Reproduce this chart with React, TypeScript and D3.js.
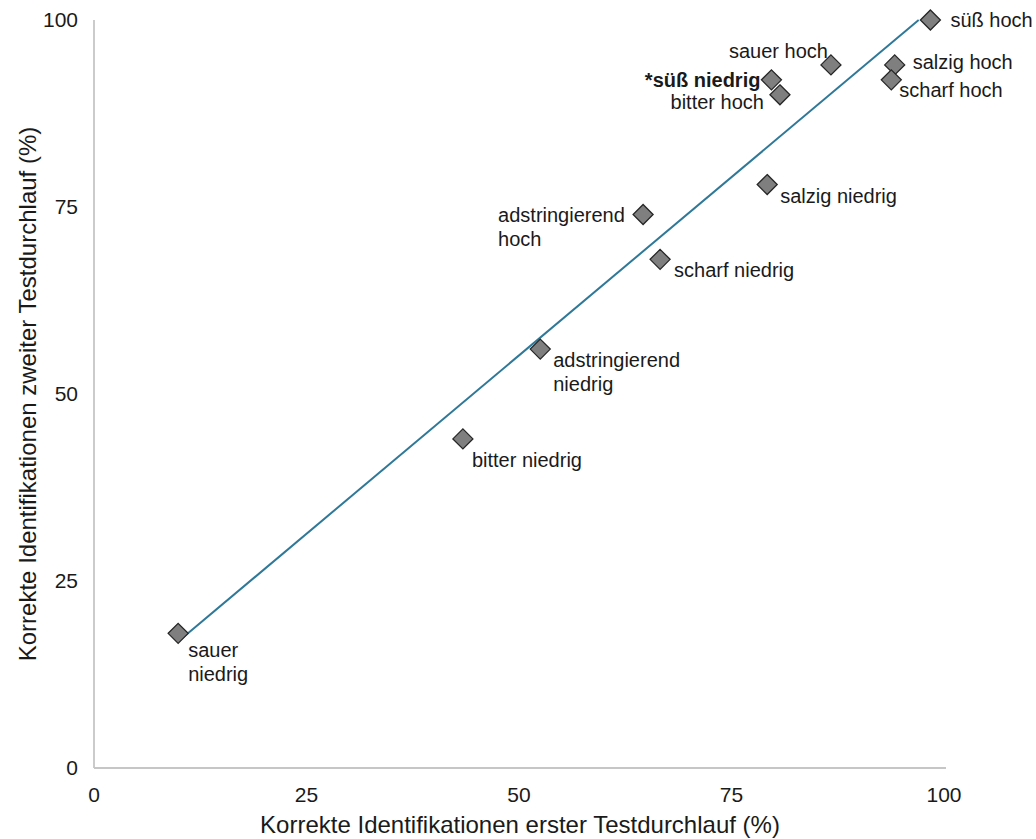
import React from "react";
import * as d3 from "d3";

const names = [
  "süß hoch", "sauer hoch", "salzig hoch", "scharf hoch", "*süß niedrig", "bitter hoch",
  "salzig niedrig", "adstringierend hoch", "scharf niedrig", "adstringierend niedrig",
  "bitter niedrig", "sauer niedrig",
];
const firstRun = [98.4, 86.7, 94.2, 93.8, 79.7, 80.7, 79.2, 64.6, 66.6, 52.5, 43.4, 9.9];
const secondRun = [100, 94, 94, 92, 92, 90, 78, 74, 68, 56, 44, 18];
const xTicks = [0, 25, 50, 75, 100];
const yTicks = [0, 25, 50, 75, 100];

// label layout (px offsets from marker centre)
const labelLayout: Record<string, { lines: string[]; dx: number; dy: number; anchor: string; bold?: boolean }> = {
  "süß hoch": { lines: ["süß hoch"], dx: 20, dy: 0, anchor: "start" },
  "sauer hoch": { lines: ["sauer hoch"], dx: -3, dy: -14, anchor: "end" },
  "salzig hoch": { lines: ["salzig hoch"], dx: 18, dy: -3, anchor: "start" },
  "scharf hoch": { lines: ["scharf hoch"], dx: 8, dy: 10, anchor: "start" },
  "*süß niedrig": { lines: ["*süß niedrig"], dx: -11, dy: 0, anchor: "end", bold: true },
  "bitter hoch": { lines: ["bitter hoch"], dx: -16, dy: 7, anchor: "end" },
  "salzig niedrig": { lines: ["salzig niedrig"], dx: 13, dy: 11, anchor: "start" },
  "adstringierend hoch": { lines: ["adstringierend", "hoch"], dx: -145, dy: 1, anchor: "start" },
  "scharf niedrig": { lines: ["scharf niedrig"], dx: 14, dy: 11, anchor: "start" },
  "adstringierend niedrig": { lines: ["adstringierend", "niedrig"], dx: 13, dy: 11, anchor: "start" },
  "bitter niedrig": { lines: ["bitter niedrig"], dx: 9, dy: 21, anchor: "start" },
  "sauer niedrig": { lines: ["sauer", "niedrig"], dx: 10, dy: 17, anchor: "start" },
};

export default function App() {
  const W = 1036, H = 839;
  const x = d3.scaleLinear().domain([0, 100]).range([94, 944]);
  const y = d3.scaleLinear().domain([0, 100]).range([768, 20]);
  const font = "'Liberation Sans', Arial, sans-serif";

  // linear regression trendline, clipped to plot area
  const mx = d3.mean(firstRun)!;
  const my = d3.mean(secondRun)!;
  let sxy = 0, sxx = 0;
  firstRun.forEach((v, i) => {
    sxy += (v - mx) * (secondRun[i] - my);
    sxx += (v - mx) * (v - mx);
  });
  const slope = sxy / sxx;
  const icpt = my - slope * mx;
  const x0 = d3.min(firstRun)!;
  let x1 = d3.max(firstRun)!;
  if (icpt + slope * x1 > 100) x1 = (100 - icpt) / slope;
  const line = d3.line<number>().x((d) => x(d)).y((d) => y(icpt + slope * d));

  const data = names.map((n, i) => ({ n, xv: firstRun[i], yv: secondRun[i] }));
  const r = 10;

  return (
    <svg width={W} height={H} style={{ position: "absolute", left: 0, top: 0, background: "#fff" }}
      fontFamily={font}>
      <rect width={W} height={H} fill="#fff" />
      <line x1={x(0)} x2={x(0)} y1={y(100)} y2={y(0)} stroke="#c6c6c6" strokeWidth={1.8} />
      <line x1={x(0)} x2={x(100) + 2} y1={y(0)} y2={y(0)} stroke="#c6c6c6" strokeWidth={1.8} />
      {yTicks.map((t) => (
        <text key={"y" + t} x={78} y={y(t)} dy="0.35em" textAnchor="end" fontSize={21} fill="#1a1a1a">
          {t}
        </text>
      ))}
      {xTicks.map((t) => (
        <text key={"x" + t} x={x(t)} y={802} textAnchor="middle" fontSize={21} fill="#1a1a1a">
          {t}
        </text>
      ))}
      <text x={520} y={833} textAnchor="middle" fontSize={24} fill="#1a1a1a">
        Korrekte Identifikationen erster Testdurchlauf (%)
      </text>
      <text transform={`translate(36, ${y(50)}) rotate(-90)`} textAnchor="middle" fontSize={24} fill="#1a1a1a">
        Korrekte Identifikationen zweiter Testdurchlauf (%)
      </text>
      <path d={line([x0, x1]) || ""} stroke="#2f7898" strokeWidth={2} fill="none" />
      {data.map((d) => {
        const cx = x(d.xv), cy = y(d.yv);
        return (
          <path key={d.n} d={`M${cx},${cy - r}L${cx + r},${cy}L${cx},${cy + r}L${cx - r},${cy}Z`}
            fill="#7f7f7f" stroke="#262626" strokeWidth={1.3} />
        );
      })}
      {data.map((d) => {
        const L = labelLayout[d.n];
        const cx = x(d.xv), cy = y(d.yv);
        return (
          <text key={"l" + d.n} x={cx + L.dx} y={cy + L.dy} textAnchor={L.anchor} fontSize={20}
            fill="#1a1a1a" fontWeight={L.bold ? "bold" : "normal"}>
            {L.lines.map((ln, i) => (
              <tspan key={i} x={cx + L.dx} dy={i === 0 ? "0.35em" : 24}>{ln}</tspan>
            ))}
          </text>
        );
      })}
    </svg>
  );
}
